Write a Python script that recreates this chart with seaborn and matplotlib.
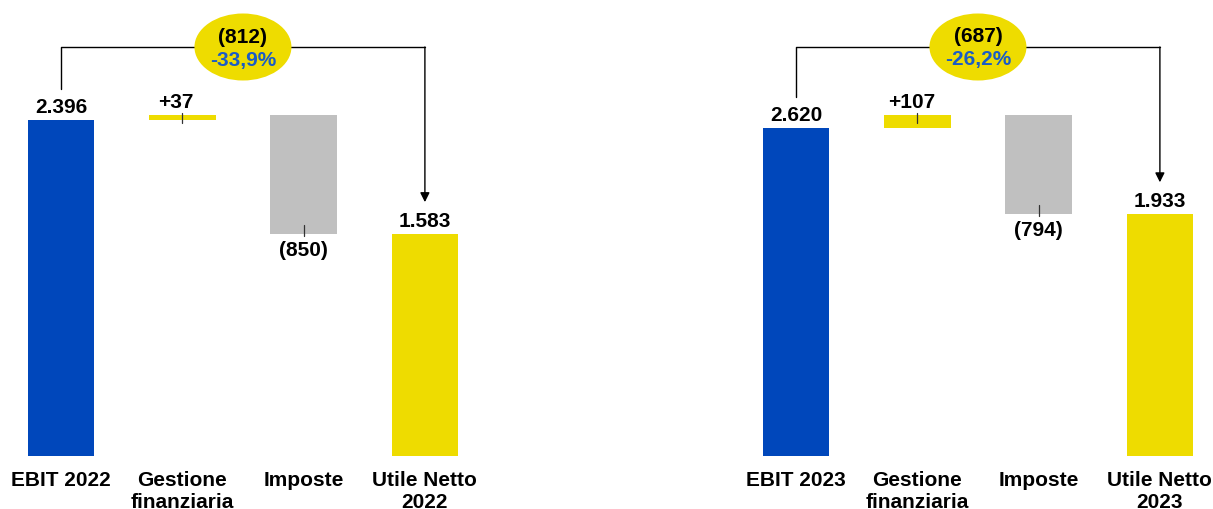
import matplotlib
matplotlib.use("Agg")
import matplotlib.pyplot as plt
import numpy as np
import pandas as pd
import seaborn as sns
from matplotlib.patches import Ellipse

# data
cats_2022 = ["EBIT 2022", "Gestione\nfinanziaria", "Imposte", "Utile Netto\n2022"]
vals_2022 = [2396, 37, -850, 1583]
delta_2022 = "(812)"
pct_2022 = "-33,9%"
labels_2022 = ["2.396", "+37", "(850)", "1.583"]

cats_2023 = ["EBIT 2023", "Gestione\nfinanziaria", "Imposte", "Utile Netto\n2023"]
vals_2023 = [2620, 107, -794, 1933]
delta_2023 = "(687)"
pct_2023 = "-26,2%"
labels_2023 = ["2.620", "+107", "(794)", "1.933"]

BLUE = "#0047BB"
YELLOW = "#EEDC00"
GREY = "#C0C0C0"
PCT_BLUE = "#1A5CC6"
bar_colors = [BLUE, YELLOW, GREY, YELLOW]

sns.set_theme(style="white")
plt.rcParams["font.family"] = ["Liberation Sans", "DejaVu Sans"]
plt.rcParams["font.weight"] = "bold"

W, H = 1213, 510
fig = plt.figure(figsize=(W / 100, H / 100), dpi=100)

FS = 15
BASE_PX = 457   # baseline y in pixels (from top)
TOP_PX = 116    # pixel where max cumulative sits
SPACING = 121.3  # px per category


def waterfall(ax_left_px, cats, vals, labels, delta, pct):
    x0, x1 = -0.45, 3.42
    width_px = (x1 - x0) * SPACING
    ax = fig.add_axes([ax_left_px / W, (H - BASE_PX) / H, width_px / W, BASE_PX / H])

    start, fin, imp, end = vals
    bottoms = [0, start, start + fin + imp, 0]
    heights = [start, fin, -imp, end]
    maxcum = start + fin
    ylim_top = maxcum * BASE_PX / (BASE_PX - TOP_PX)
    px = maxcum / (BASE_PX - TOP_PX)  # data units per pixel

    df = pd.DataFrame({"cat": cats, "height": heights})
    sns.barplot(data=df, x="cat", y="height", hue="cat", palette=bar_colors,
                legend=False, width=0.55, ax=ax, saturation=1)
    for patch, b in zip(ax.patches, bottoms):
        patch.set_y(b)
        patch.set_linewidth(0)

    ax.set_xlim(x0, x1)
    ax.set_ylim(0, ylim_top)
    ax.set_xlabel("")
    ax.set_ylabel("")
    ax.set_yticks([])
    sns.despine(ax=ax, left=True, bottom=True)
    ax.tick_params(axis="x", length=0, pad=10)
    for t in ax.get_xticklabels():
        t.set_fontsize(FS)
        t.set_fontweight("bold")
        t.set_linespacing(1.2)
        t.set_color("black")

    tk = dict(color="black", fontsize=FS, fontweight="bold", ha="center", clip_on=False)
    # value labels
    ax.text(0, start + 4 * px, labels[0], va="bottom", **tk)
    ax.text(1 - 6 / SPACING, start + fin + 4 * px, labels[1], va="bottom", **tk)
    ax.text(2, start + fin + imp - 6 * px, labels[2], va="top", **tk)
    ax.text(3, end + 4 * px, labels[3], va="bottom", **tk)

    # small connector ticks
    ax.plot([1, 1], [start + fin + 2 * px, start + fin - 8 * px], color="#333333", lw=0.9)
    ax.plot([2, 2], [start + fin + imp + 9 * px, start + fin + imp - 2 * px], color="#333333", lw=0.9)

    # bracket
    y_br = maxcum + (TOP_PX - 48) * px
    ax.plot([0, 0, 3], [start + 31 * px, y_br, y_br], color="black", lw=1, clip_on=False)
    ax.annotate("", xy=(3, end + 32 * px), xytext=(3, y_br),
                arrowprops=dict(arrowstyle="-|>", color="black", lw=1,
                                mutation_scale=14, shrinkA=0, shrinkB=0),
                annotation_clip=False)

    # ellipse
    ell = Ellipse((1.5, y_br), 97 / SPACING, 67 * px, facecolor=YELLOW,
                  edgecolor="none", zorder=5, clip_on=False)
    ax.add_patch(ell)
    ax.text(1.5, y_br + 11 * px, delta, va="center", zorder=6, **tk)
    tk2 = dict(tk)
    tk2["color"] = PCT_BLUE
    ax.text(1.5, y_br - 12 * px, pct, va="center", zorder=6, **tk2)
    return ax


waterfall(61 - 0.45 * SPACING, cats_2022, vals_2022, labels_2022, delta_2022, pct_2022)
waterfall(796 - 0.45 * SPACING, cats_2023, vals_2023, labels_2023, delta_2023, pct_2023)

fig.savefig("out.png", dpi=100, facecolor="white")
